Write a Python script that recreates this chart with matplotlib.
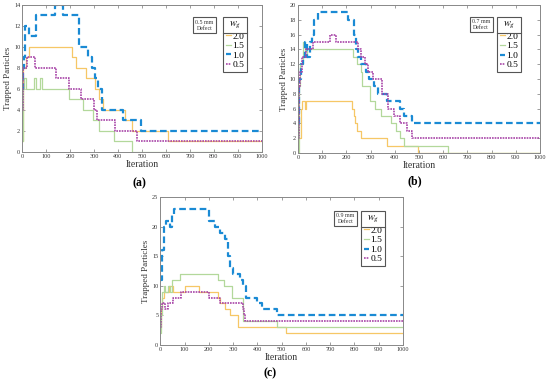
import matplotlib
matplotlib.use("Agg")
import matplotlib.pyplot as plt
from matplotlib.lines import Line2D

plt.rcParams['font.family'] = ['Liberation Serif', 'DejaVu Serif']
plt.rcParams['mathtext.fontset'] = 'stix'

labels = ["2.0", "1.5", "1.0", "0.5"]
colors = ["#f6c766", "#b3d89b", "#1a8ad4", "#a845a8"]

# Panel (a): 0.5 mm defect
a_orange_x = [0, 3, 15, 30, 206, 224, 265, 303, 320, 338, 429, 458, 610]
a_orange_y = [1, 8, 9, 10, 9, 8, 7, 6, 5, 4, 3, 2, 1]
a_green_x = [0, 2, 5, 9, 14, 50, 56, 75, 82, 196, 255, 294, 322, 384, 457]
a_green_y = [1, 4, 6, 7, 6, 7, 6, 7, 6, 5, 4, 3, 2, 1, 0]
a_blue_x = [0, 3, 6, 10, 30, 57, 135, 170, 235, 275, 292, 305, 318, 331, 421, 494]
a_blue_y = [6, 8, 9, 12, 11, 13, 14, 13, 10, 9, 8, 7, 6, 4, 3, 2]
a_purple_x = [0, 2, 5, 18, 53, 140, 196, 245, 301, 311, 387, 478]
a_purple_y = [4, 5, 8, 9, 8, 7, 6, 5, 4, 3, 2, 1]

# Panel (b): 0.7 mm defect
b_orange_x = [0, 2, 12, 18, 28, 34, 225, 232, 236, 242, 260, 366, 494]
b_orange_y = [0, 2, 6, 7, 6, 7, 6, 5, 4, 3, 2, 1, 0]
b_green_x = [0, 3, 6, 10, 20, 30, 36, 226, 245, 259, 266, 298, 318, 344, 385, 405, 421, 440, 621]
b_green_y = [0, 5, 9, 12, 15, 13, 14, 13, 12, 11, 9, 7, 6, 5, 4, 3, 2, 1, 0]
b_blue_x = [0, 3, 6, 12, 20, 30, 36, 48, 59, 68, 83, 208, 230, 240, 248, 262, 280, 295, 315, 330, 366, 421, 440, 470]
b_blue_y = [4, 8, 10, 12, 13, 15, 13, 15, 16, 18, 19, 18, 16, 14, 13, 12, 11, 10, 9, 8, 7, 6, 5, 4]
b_purple_x = [0, 3, 6, 10, 15, 32, 62, 131, 159, 248, 262, 277, 290, 310, 346, 373, 398, 421, 449, 470]
b_purple_y = [2, 6, 9, 11, 13, 14, 15, 16, 15, 14, 13, 12, 11, 10, 8, 6, 5, 4, 3, 2]

# Panel (c): 0.9 mm defect
c_orange_x = [0, 3, 8, 15, 36, 53, 100, 160, 239, 245, 266, 287, 321, 517]
c_orange_y = [3, 6, 8, 9, 10, 9, 10, 9, 8, 7, 6, 5, 3, 2]
c_green_x = [0, 3, 8, 14, 20, 30, 40, 47, 80, 239, 262, 294, 342, 480]
c_green_y = [2, 5, 9, 10, 9, 10, 9, 11, 12, 11, 10, 8, 4, 3]
c_blue_x = [0, 6, 15, 22, 40, 50, 56, 202, 225, 245, 265, 280, 287, 300, 328, 342, 355, 400, 418, 482]
c_blue_y = [11, 16, 20, 21, 20, 22, 23, 21, 20, 19, 18, 15, 13, 12, 11, 10, 8, 7, 6, 5]
c_purple_x = [0, 3, 8, 19, 33, 53, 84, 200, 245, 342, 346, 350]
c_purple_y = [3, 6, 7, 6, 7, 8, 9, 8, 7, 6, 5, 4]

panels = [
    dict(rect=[22.3, 4.7, 261.7, 151.7], ymax=14, ystep=2, defect="0.5 mm\nDefect", tag="(a)", tagpos=(139, 183),
         series=[(a_orange_x, a_orange_y), (a_green_x, a_green_y), (a_blue_x, a_blue_y), (a_purple_x, a_purple_y)],
         leg=(0.94, 0.918), dpos=(0.761, 0.859)),
    dict(rect=[298, 5, 540, 153], ymax=20, ystep=2, defect="0.7 mm\nDefect", tag="(b)", tagpos=(415, 181),
         series=[(b_orange_x, b_orange_y), (b_green_x, b_green_y), (b_blue_x, b_blue_y), (b_purple_x, b_purple_y)],
         leg=(0.922, 0.92), dpos=(0.757, 0.868)),
    dict(rect=[160.3, 197.3, 403, 344.7], ymax=25, ystep=5, defect="0.9 mm\nDefect", tag="(c)", tagpos=(270, 373),
         series=[(c_orange_x, c_orange_y), (c_green_x, c_green_y), (c_blue_x, c_blue_y), (c_purple_x, c_purple_y)],
         leg=(0.927, 0.908), dpos=(0.763, 0.856)),
]

W, H = 550, 386
fig = plt.figure(figsize=(W / 100, H / 100), dpi=100)

styles = [dict(ls='-', lw=0.9), dict(ls='-', lw=0.9), dict(ls=(0, (3, 1.6)), lw=1.6), dict(ls=(0, (1, 0.6)), lw=1.2)]
legends = []
for p in panels:
    x0, y0, x1, y1 = p['rect']
    ax = fig.add_axes([x0 / W, (H - y1) / H, (x1 - x0) / W, (y1 - y0) / H])
    handles = []
    for (xs, ys), c, st, lab in zip(p['series'], colors, styles, labels):
        xx = list(xs) + [1000]
        yy = list(ys) + [ys[-1]]
        h, = ax.plot(xx, yy, drawstyle='steps-post', color=c, linestyle=st['ls'], lw=st['lw'], label=lab)
        handles.append(h)
    ax.set_xlim(0, 1000)
    ax.set_ylim(0, p['ymax'])
    ax.set_xticks(range(0, 1001, 100))
    ax.set_yticks(range(0, p['ymax'] + 1, p['ystep']))
    ax.tick_params(direction='in', length=2, width=0.5, colors='#777777', labelcolor='#333333',
                   labelsize=4.4, top=True, right=True, pad=1.5)
    for s in ax.spines.values():
        s.set_color('#888888')
        s.set_linewidth(0.7)
    ax.set_xlabel("Iteration", fontsize=7, labelpad=1, color='#333333')
    ax.set_ylabel("Trapped Particles", fontsize=6.5, labelpad=1.5, color='#333333')
    leg = ax.legend(handles=handles, title=r'$w_g$', loc='upper right', bbox_to_anchor=p['leg'],
                    fontsize=6.8, title_fontsize=7.5, handlelength=0.5, handletextpad=0.2,
                    borderpad=0.3, labelspacing=0.1, borderaxespad=0, fancybox=False,
                    edgecolor='#555555', framealpha=1)
    leg.get_frame().set_linewidth(0.8)
    legends.append((ax, leg))
    ax.text(p['dpos'][0], p['dpos'][1], p['defect'], transform=ax.transAxes, ha='center', va='center',
            fontsize=4.2, linespacing=1.3, color='#333333',
            bbox=dict(boxstyle='square,pad=0.4', fc='white', ec='#555555', lw=0.8))
    fig.text(p['tagpos'][0] / W, 1 - p['tagpos'][1] / H, p['tag'], ha='center', va='center',
             fontsize=8.5, fontweight='bold')

fig.canvas.draw()
inv = fig.transFigure.inverted()
for ax, leg in legends:
    fb = leg.get_frame().get_window_extent()
    tb = leg.get_title().get_window_extent()
    ysep = tb.y0 - 1.5
    (fx0, fy), = inv.transform([(fb.x0, ysep)])
    (fx1, _), = inv.transform([(fb.x1, ysep)])
    fig.add_artist(Line2D([fx0, fx1], [fy, fy], transform=fig.transFigure, color='#555555', lw=0.8))

fig.savefig("out.png", dpi=100)
